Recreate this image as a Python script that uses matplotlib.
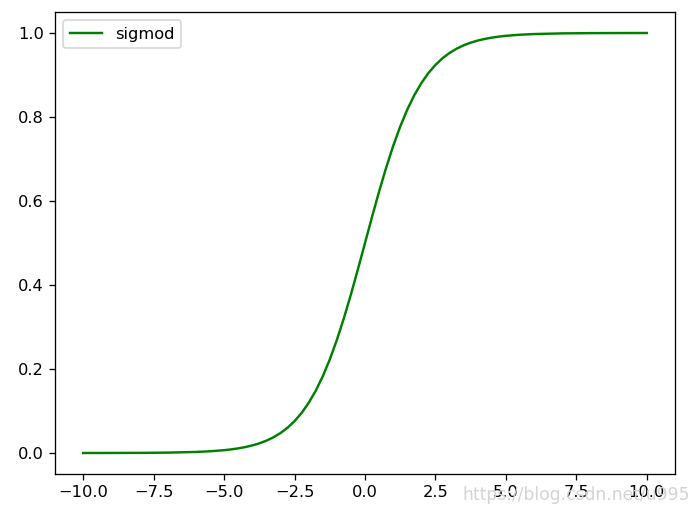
import matplotlib
matplotlib.use("Agg")
import matplotlib.pyplot as plt

# values
x_vals = [-10.0, -9.0, -8.0, -7.0, -6.0, -5.5, -5.0, -4.75, -4.5, -4.25,
          -4.0, -3.75, -3.5, -3.25, -3.0, -2.75, -2.5, -2.25, -2.0, -1.75,
          -1.5, -1.25, -1.0, -0.75, -0.5, -0.25, 0.0, 0.25, 0.5, 0.75,
          1.0, 1.25, 1.5, 1.75, 2.0, 2.25, 2.5, 2.75, 3.0, 3.25,
          3.5, 3.75, 4.0, 4.25, 4.5, 4.75, 5.0, 5.5, 6.0, 7.0,
          8.0, 9.0, 10.0]
y_vals = [0.0000, 0.0001, 0.0003, 0.0009, 0.0025, 0.0041, 0.0067, 0.0086, 0.0110, 0.0141,
          0.0180, 0.0230, 0.0293, 0.0374, 0.0474, 0.0601, 0.0759, 0.0953, 0.1192, 0.1480,
          0.1824, 0.2227, 0.2689, 0.3208, 0.3775, 0.4378, 0.5000, 0.5622, 0.6225, 0.6792,
          0.7311, 0.7773, 0.8176, 0.8520, 0.8808, 0.9047, 0.9241, 0.9399, 0.9526, 0.9626,
          0.9707, 0.9770, 0.9820, 0.9859, 0.9890, 0.9914, 0.9933, 0.9959, 0.9975, 0.9991,
          0.9997, 0.9999, 1.0000]

dpi = 117
fig = plt.figure(figsize=(698 / dpi, 514 / dpi), dpi=dpi)
ax = fig.add_axes([55 / 698, 40 / 514, 620 / 698, 462 / 514])

ax.plot(x_vals, y_vals, color="green", label="sigmod")
ax.legend(loc="upper left")

# faint watermark
fig.text(0.988, 0.037, "https://blog.csdn.net/u995", ha="right", va="center",
         fontsize=10.5, color="#d4d4d4")

fig.savefig("out.png", dpi=dpi)
